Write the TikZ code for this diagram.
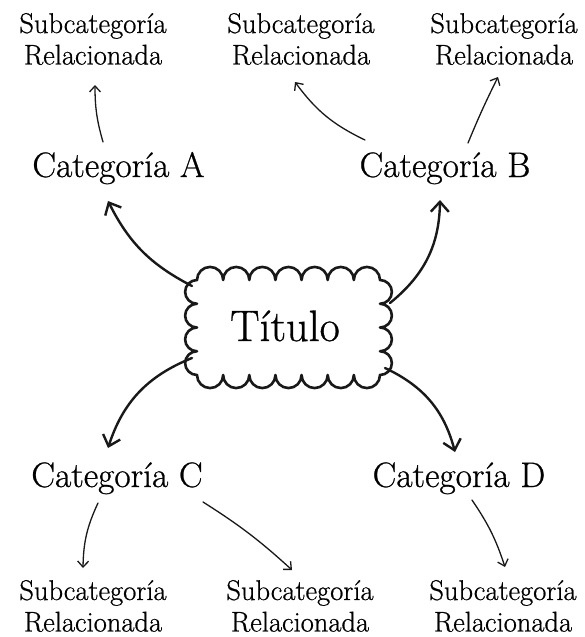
\documentclass[tikz,border=0pt]{standalone}
\usepackage{fontspec}
\setmainfont{Latin Modern Roman}[FakeBold=0.7]
\usetikzlibrary{arrows.meta}
\begin{document}
\begin{tikzpicture}[x=1pt,y=1pt,
  sub/.style={align=center,inner sep=0pt,font=\fontsize{28.5}{31.5}\selectfont},
  cat/.style={anchor=base,inner sep=0pt,font=\fontsize{35.4}{40}\selectfont},
  bigarrow/.style={draw=black!90,line width=2.4pt,line cap=round,
    -{Straight Barb[length=10pt,width=18pt,line width=2.4pt]}},
  smallarrow/.style={draw=black!90,line width=1.3pt,line cap=round,
    -{Straight Barb[length=6pt,width=11pt,line width=1.3pt]}},
  cloudline/.style={draw=black!90,line width=2.6pt,line join=round}]
\useasboundingbox (0,0) rectangle (584,-637);

% subcategories top
\node[sub] (stl) at (93,-39) {Subcategoría\\Relacionada};
\node[sub] (stm) at (301,-39) {Subcategoría\\Relacionada};
\node[sub] (str) at (504,-39) {Subcategoría\\Relacionada};
% categories
\node[cat] (ca) at (118.5,-177) {Categoría A};
\node[cat] (cb) at (445,-177) {Categoría B};
\node[cat] (cc) at (117,-487) {Categoría C};
\node[cat] (cd) at (459,-487) {Categoría D};
% subcategories bottom
\node[sub] (sbl) at (93,-606) {Subcategoría\\Relacionada};
\node[sub] (sbm) at (300,-606) {Subcategoría\\Relacionada};
\node[sub] (sbr) at (503,-606) {Subcategoría\\Relacionada};

% title cloud
\draw[cloudline] (197,-280)
  \foreach \i in {1,...,7}{ arc[start angle=180,end angle=0,radius=13.071] }
  \foreach \i in {1,...,4}{ arc[start angle=90,end angle=-90,radius=11.875] }
  \foreach \i in {1,...,7}{ arc[start angle=0,end angle=-180,radius=13.071] }
  \foreach \i in {1,...,4}{ arc[start angle=-90,end angle=-270,radius=11.875] }
  -- cycle;
\node[anchor=base,inner sep=0pt,font=\fontsize{44}{50}\selectfont] (ti) at (285,-341) {Título};

\coordinate (clA) at (192,-286);
\coordinate (clB) at (390,-303);
\coordinate (clC) at (192,-358);
\coordinate (clD) at (385,-368);

% thick arrows
\draw[bigarrow] (clA) to[bend left=18] ([shift={(-10.5,-24)}]ca.base);
\draw[bigarrow] (clB) to[bend right=25] ([shift={(-5,-23)}]cb.base);
\draw[bigarrow] (clC) to[bend right=25] ([shift={(-9,39)}]cc.base);
\draw[bigarrow] (clD) to[bend left=25] ([shift={(-4,35)}]cd.base);

% thin arrows
\draw[smallarrow] ([shift={(-15.5,35)}]ca.base) to[bend left=8] ([shift={(2,-46)}]stl.center);
\draw[smallarrow] ([shift={(-80,37)}]cb.base) to[bend left=14] ([shift={(-6,-43)}]stm.center);
\draw[smallarrow] ([shift={(23,34)}]cb.base) to[bend left=2] ([shift={(-6,-38)}]str.center);
\draw[smallarrow] ([shift={(-19,-16)}]cc.base) to[bend right=12] ([shift={(-10,38)}]sbl.center);
\draw[smallarrow] ([shift={(86,-15)}]cc.base) to[bend left=5] ([shift={(-8,36)}]sbm.center);
\draw[smallarrow] ([shift={(13,-13)}]cd.base) to[bend left=8] ([shift={(2,39)}]sbr.center);
\end{tikzpicture}
\end{document}
